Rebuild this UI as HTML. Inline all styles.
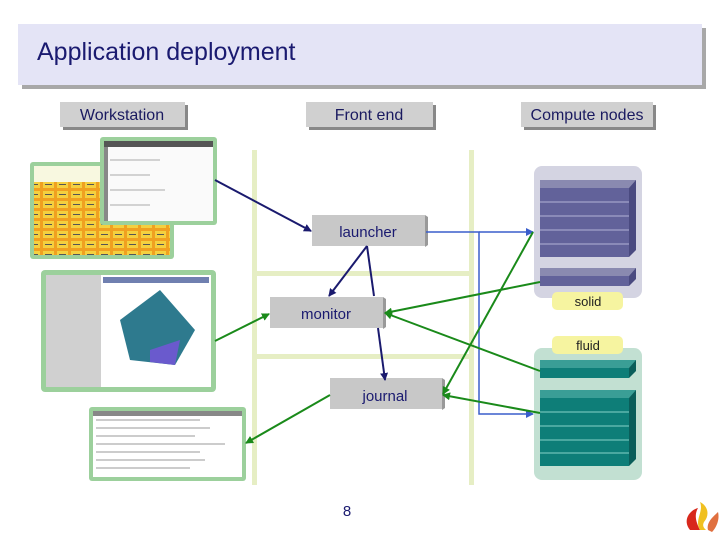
<!DOCTYPE html>
<html><head><meta charset="utf-8"><style>
body{margin:0;width:720px;height:540px;background:#fff;overflow:hidden;font-family:"Liberation Sans",sans-serif}
</style></head><body>
<svg width="720" height="540" xmlns="http://www.w3.org/2000/svg" font-family="Liberation Sans, sans-serif">
<defs>
<marker id="an" markerWidth="8" markerHeight="8" refX="7" refY="4" orient="auto" markerUnits="userSpaceOnUse"><path d="M0,0 L8,4 L0,8 Z" fill="#1a1a6e"/></marker>
<marker id="ag" markerWidth="8" markerHeight="8" refX="7" refY="4" orient="auto" markerUnits="userSpaceOnUse"><path d="M0,0 L8,4 L0,8 Z" fill="#1a8a1a"/></marker>
<marker id="ab" markerWidth="8" markerHeight="8" refX="7" refY="4" orient="auto" markerUnits="userSpaceOnUse"><path d="M0,0 L8,4 L0,8 Z" fill="#3a5ecc"/></marker>
<pattern id="cells" width="14" height="10" patternUnits="userSpaceOnUse"><rect width="14" height="10" fill="#f0a020"/><rect x="1" y="1" width="11" height="7" fill="#f4d040"/><rect x="3" y="4" width="7" height="1" fill="#555"/></pattern>
</defs>
<!-- title -->
<rect x="22" y="28" width="684" height="61" fill="#a8a8a8"/>
<rect x="18" y="24" width="684" height="61" fill="#e4e4f6"/>
<text x="37" y="60" font-size="25" fill="#1a1a70">Application deployment</text>
<!-- headers -->
<g font-size="16" fill="#1a1a60" text-anchor="middle">
<rect x="63" y="105" width="125" height="25" fill="#888"/><rect x="60" y="102" width="125" height="25" fill="#d0d0d0"/><text x="122" y="120">Workstation</text>
<rect x="309" y="105" width="127" height="25" fill="#888"/><rect x="306" y="102" width="127" height="25" fill="#d0d0d0"/><text x="369" y="120">Front end</text>
<rect x="524" y="105" width="132" height="25" fill="#888"/><rect x="521" y="102" width="132" height="25" fill="#d0d0d0"/><text x="587" y="120">Compute nodes</text>
</g>
<!-- front end lanes -->
<rect x="252" y="150" width="5" height="335" fill="#e6eec4"/>
<rect x="469" y="150" width="5" height="335" fill="#e6eec4"/>
<rect x="252" y="271" width="222" height="5" fill="#e6eec4"/>
<rect x="252" y="354" width="222" height="5" fill="#e6eec4"/>
<!-- screenshots -->
<rect x="30" y="162" width="144" height="97" rx="3" fill="#9cd09c"/>
<rect x="34" y="166" width="136" height="89" fill="url(#cells)"/>
<rect x="34" y="166" width="136" height="16" fill="#f8f8e0"/>
<rect x="100" y="137" width="117" height="88" rx="3" fill="#9cd09c"/>
<rect x="104" y="141" width="109" height="80" fill="#fafafa"/>
<rect x="104" y="141" width="109" height="6" fill="#555"/>
<rect x="104" y="147" width="4" height="74" fill="#888"/>
<g stroke="#aaa" stroke-width="1"><line x1="110" y1="160" x2="160" y2="160"/><line x1="110" y1="175" x2="150" y2="175"/><line x1="110" y1="190" x2="165" y2="190"/><line x1="110" y1="205" x2="150" y2="205"/></g>
<rect x="41" y="270" width="175" height="122" rx="4" fill="#9cd09c"/>
<rect x="46" y="275" width="165" height="112" fill="#fff"/>
<rect x="46" y="275" width="55" height="112" fill="#d0d0d0"/>
<rect x="103" y="277" width="106" height="6" fill="#7080b0"/>
<path d="M120,320 L160,290 L195,330 L175,365 L130,360 Z" fill="#2e7a8e"/>
<path d="M150,350 L180,340 L175,365 L150,362 Z" fill="#6a5acd"/>
<rect x="89" y="407" width="157" height="74" rx="3" fill="#9cd09c"/>
<rect x="93" y="411" width="149" height="66" fill="#fff"/>
<rect x="93" y="411" width="149" height="5" fill="#888"/>
<g stroke="#999" stroke-width="1"><line x1="96" y1="420" x2="200" y2="420"/><line x1="96" y1="428" x2="210" y2="428"/><line x1="96" y1="436" x2="195" y2="436"/><line x1="96" y1="444" x2="225" y2="444"/><line x1="96" y1="452" x2="200" y2="452"/><line x1="96" y1="460" x2="205" y2="460"/><line x1="96" y1="468" x2="190" y2="468"/></g>
<!-- compute groups -->
<rect x="534" y="166" width="108" height="132" rx="8" fill="#d4d4e2"/>
<g fill="#62629a">
<rect x="540" y="188" width="89" height="69"/>
<rect x="540" y="276" width="89" height="10"/></g>
<g stroke="#8a8ab8" stroke-width="2"><line x1="540" y1="202" x2="629" y2="202"/><line x1="540" y1="216" x2="629" y2="216"/><line x1="540" y1="230" x2="629" y2="230"/><line x1="540" y1="244" x2="629" y2="244"/></g>
<g fill="#8a8ab0"><rect x="540" y="180" width="96" height="8"/><rect x="540" y="268" width="96" height="8"/></g>
<path d="M629,188 L636,180 L636,250 L629,257 Z M629,276 L636,268 L636,279 L629,286 Z" fill="#4a4a80"/>
<rect x="552" y="292" width="71" height="18" rx="5" fill="#f6f4a0"/>
<text x="588" y="306" font-size="13" text-anchor="middle" fill="#222">solid</text>
<rect x="534" y="348" width="108" height="132" rx="8" fill="#c2e0d2"/>
<rect x="552" y="336" width="71" height="18" rx="5" fill="#f6f4a0"/>
<text x="588" y="350" font-size="13" text-anchor="middle" fill="#222">fluid</text>
<g fill="#0e7e78">
<rect x="540" y="368" width="89" height="10"/>
<rect x="540" y="398" width="89" height="68"/></g>
<g fill="#3a9e96"><rect x="540" y="360" width="96" height="8"/><rect x="540" y="390" width="96" height="8"/></g>
<g stroke="#4aa8a0" stroke-width="2"><line x1="540" y1="412" x2="629" y2="412"/><line x1="540" y1="426" x2="629" y2="426"/><line x1="540" y1="440" x2="629" y2="440"/><line x1="540" y1="453" x2="629" y2="453"/></g>
<path d="M629,368 L636,360 L636,371 L629,378 Z M629,398 L636,390 L636,459 L629,466 Z" fill="#0a5e5a"/>
<!-- nodes -->
<g font-size="15" fill="#1a1a70" text-anchor="middle">
<path d="M425,215 L428,217 L428,245 L425,247 Z" fill="#999"/>
<rect x="312" y="215" width="113" height="31" fill="#c8c8c8"/><text x="368" y="237">launcher</text>
<path d="M383,297 L386,299 L386,327 L383,329 Z" fill="#999"/>
<rect x="270" y="297" width="113" height="31" fill="#c8c8c8"/><text x="326" y="319">monitor</text>
<path d="M442,378 L445,380 L445,408 L442,410 Z" fill="#999"/>
<rect x="330" y="378" width="112" height="31" fill="#c8c8c8"/><text x="385" y="401">journal</text>
</g>
<!-- connectors -->
<g fill="none" stroke-width="2">
<line x1="215" y1="180" x2="311" y2="231" stroke="#1a1a6e" marker-end="url(#an)"/>
<line x1="367" y1="246" x2="329" y2="296" stroke="#1a1a6e" marker-end="url(#an)"/>
<line x1="367" y1="246" x2="374" y2="296" stroke="#1a1a6e"/>
<line x1="378" y1="328" x2="385" y2="380" stroke="#1a1a6e" marker-end="url(#an)"/>
<polyline points="426,232 479,232 479,414 533,414" stroke="#3a5ecc" stroke-width="1.5" marker-end="url(#ab)"/>
<line x1="479" y1="232" x2="533" y2="232" stroke="#3a5ecc" stroke-width="1.5" marker-end="url(#ab)"/>
<line x1="215" y1="341" x2="269" y2="314" stroke="#1a8a1a" marker-end="url(#ag)"/>
<line x1="540" y1="282" x2="385" y2="313" stroke="#1a8a1a" marker-end="url(#ag)"/>
<line x1="540" y1="371" x2="385" y2="313" stroke="#1a8a1a" marker-end="url(#ag)"/>
<line x1="533" y1="232" x2="443" y2="394" stroke="#1a8a1a" marker-end="url(#ag)"/>
<line x1="540" y1="413" x2="443" y2="395" stroke="#1a8a1a" marker-end="url(#ag)"/>
<line x1="330" y1="395" x2="246" y2="443" stroke="#1a8a1a" marker-end="url(#ag)"/>
</g>
<text x="347" y="516" font-size="15" fill="#1a1a70" text-anchor="middle">8</text>
<!-- logo -->
<path d="M690,530 C682,520 690,510 698,508 C694,515 696,522 700,530 Z" fill="#d8281c"/>
<path d="M700,530 C694,520 704,512 700,502 C708,506 710,515 704,522 C702,526 704,528 706,530 Z" fill="#f0c020"/>
<path d="M708,530 C706,522 714,516 718,512 C720,520 716,528 712,532 Z" fill="#e07040"/>
</svg>
</body></html>
